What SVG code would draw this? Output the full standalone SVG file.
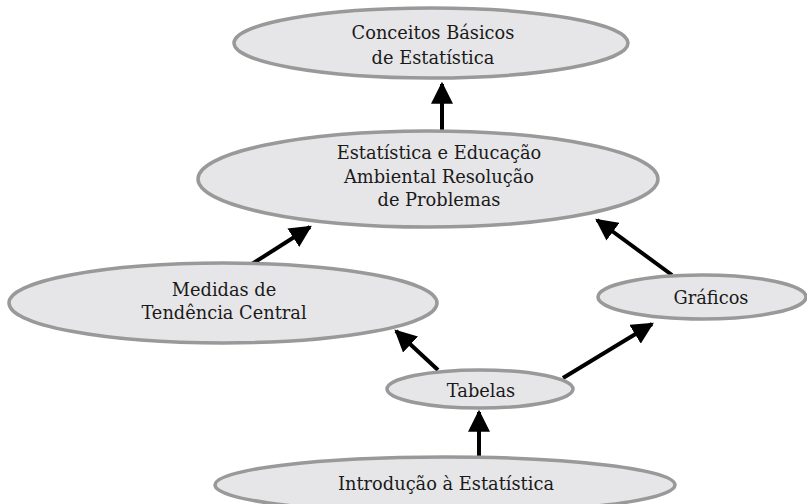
<svg xmlns="http://www.w3.org/2000/svg" width="807" height="504" viewBox="0 0 807 504">
<style>
.node ellipse{fill:#e6e6e8;stroke:#999999;stroke-width:3.5}
.node text{font-family:"DejaVu Serif",serif;font-size:17.8px;fill:#1a1a1a;text-anchor:middle}
.edge line{stroke:#000;stroke-width:4;marker-end:url(#ah)}
</style>
<defs>
<marker id="ah" markerUnits="userSpaceOnUse" markerWidth="22" markerHeight="22" refX="18" refY="10" orient="auto" viewBox="0 0 20 20">
<path d="M0,0 L20,10 L0,20 Z" fill="#000"/>
</marker>
</defs>
<rect width="807" height="504" fill="#fff"/>
<g id="edges" class="edge">
<line x1="442" y1="130" x2="442" y2="84"/>
<line x1="252" y1="264" x2="310" y2="227"/>
<line x1="672" y1="275" x2="597" y2="220"/>
<line x1="438" y1="370" x2="396" y2="331"/>
<line x1="563" y1="378" x2="652" y2="324"/>
<line x1="479" y1="457" x2="479" y2="412"/>
</g>
<g id="n-conceitos" class="node">
<ellipse cx="431" cy="43" rx="197" ry="35"/>
<text x="433" y="39">Conceitos Básicos</text>
<text x="433" y="64">de Estatística</text>
</g>
<g id="n-estatistica" class="node">
<ellipse cx="428" cy="179" rx="230" ry="48"/>
<text x="439" y="159">Estatística e Educação</text>
<text x="439" y="183">Ambiental Resolução</text>
<text x="439" y="206">de Problemas</text>
</g>
<g id="n-medidas" class="node">
<ellipse cx="223" cy="303" rx="214" ry="40"/>
<text x="224" y="296">Medidas de</text>
<text x="224" y="319">Tendência Central</text>
</g>
<g id="n-graficos" class="node">
<ellipse cx="702" cy="297" rx="104" ry="22"/>
<text x="711" y="304">Gráficos</text>
</g>
<g id="n-tabelas" class="node">
<ellipse cx="480" cy="389" rx="93" ry="19"/>
<text x="481" y="397">Tabelas</text>
</g>
<g id="n-intro" class="node">
<ellipse cx="445" cy="485" rx="230" ry="28"/>
<text x="446" y="490">Introdução à Estatística</text>
</g>
</svg>
